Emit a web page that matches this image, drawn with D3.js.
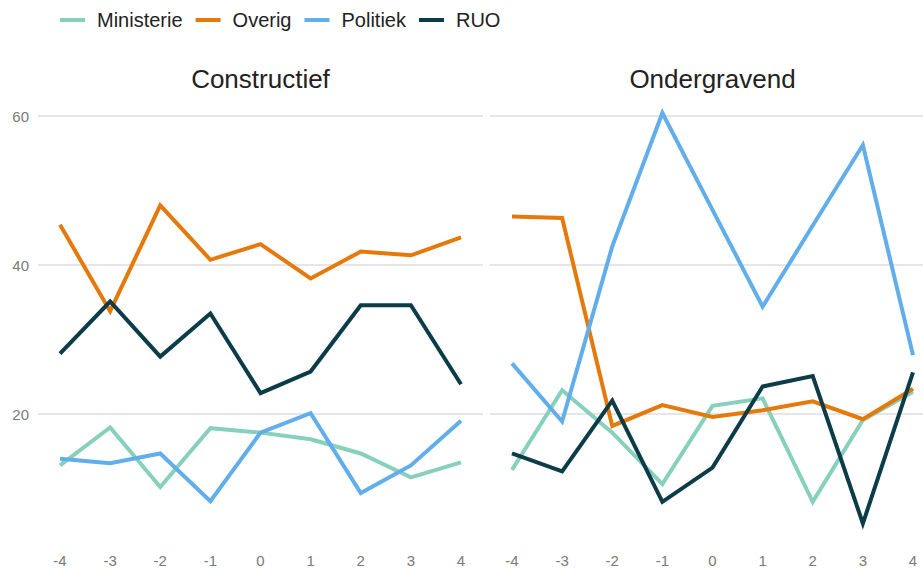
<!DOCTYPE html>
<meta charset="utf-8">
<title>Constructief / Ondergravend</title>
<style>
  body { margin: 0; background: #fff; }
  text { font-family: "Liberation Sans", Arial, sans-serif; }
</style>
<svg width="923" height="571"></svg>
<script src="https://d3js.org/d3.v7.min.js"></script>
<script>

  var periods = [-4, -3, -2, -1, 0, 1, 2, 3, 4];
  var yTicks = [20, 40, 60];
  var seriesNames = ["Ministerie", "Overig", "Politiek", "RUO"];
  var panelTitles = ["Constructief", "Ondergravend"];

  // Constructief
  var conMinisterie = [13.1, 18.2, 10.2, 18.1, 17.5, 16.6, 14.7, 11.5, 13.5];
  var conOverig     = [45.4, 33.8, 48.0, 40.7, 42.8, 38.2, 41.8, 41.3, 43.7];
  var conPolitiek   = [14.0, 13.4, 14.7, 8.3, 17.5, 20.1, 9.4, 13.1, 19.1];
  var conRUO        = [28.1, 35.1, 27.7, 33.5, 22.8, 25.7, 34.6, 34.6, 24.0];

  // Ondergravend
  var ondMinisterie = [12.5, 23.2, 17.5, 10.6, 21.1, 22.1, 8.2, 19.2, 23.0];
  var ondOverig     = [46.5, 46.3, 18.4, 21.2, 19.6, 20.5, 21.7, 19.3, 23.4];
  var ondPolitiek   = [26.8, 19.0, 42.5, 60.4, 47.4, 34.4, 45.3, 56.1, 27.9];
  var ondRUO        = [14.7, 12.3, 21.8, 8.2, 12.8, 23.7, 25.1, 5.3, 25.6];

  var colors = ["#86d0bc", "#e47a0c", "#62aeea", "#0b3c48"];

  var panels = [
    { title: panelTitles[0], left: 38, right: 483, series: [conMinisterie, conOverig, conPolitiek, conRUO] },
    { title: panelTitles[1], left: 490, right: 935, series: [ondMinisterie, ondOverig, ondPolitiek, ondRUO] }
  ];

  var svg = d3.select("svg");

  var y = d3.scaleLinear().domain([0, 60]).range([563, 116]);

  // legend
  var legend = svg.append("g").attr("transform", "translate(60,20)");
  var lx = 0;
  seriesNames.forEach(function(name, i) {
    var g = legend.append("g").attr("transform", "translate(" + lx + ",0)");
    g.append("line").attr("x1", 0).attr("x2", 25).attr("y1", 0).attr("y2", 0)
      .attr("stroke", colors[i]).attr("stroke-width", 4);
    var t = g.append("text").attr("x", 37).attr("y", 7)
      .attr("font-size", 20).attr("fill", "#222").text(name);
    lx += 37 + t.node().getComputedTextLength() + 13;
  });

  panels.forEach(function(p, pi) {
    var pad = 22;
    var x = d3.scaleLinear().domain([-4, 4]).range([p.left + pad, p.right - pad]);
    var g = svg.append("g");

    g.selectAll(".grid").data(yTicks).enter().append("line")
      .attr("x1", p.left).attr("x2", p.right)
      .attr("y1", function(d) { return y(d); }).attr("y2", function(d) { return y(d); })
      .attr("stroke", "#dedede").attr("stroke-width", 1.5);

    if (pi === 0) {
      g.selectAll(".ylab").data(yTicks).enter().append("text")
        .attr("x", 29).attr("y", function(d) { return y(d) + 5.5; })
        .attr("text-anchor", "end").attr("font-size", 15).attr("fill", "#7a7a7a")
        .text(function(d) { return d; });
    }

    g.selectAll(".xlab").data(periods).enter().append("text")
      .attr("x", function(d) { return x(d); }).attr("y", 566)
      .attr("text-anchor", "middle").attr("font-size", 15).attr("fill", "#7a7a7a")
      .text(function(d) { return d; });

    g.append("text")
      .attr("x", (x(-4) + x(4)) / 2).attr("y", 88)
      .attr("text-anchor", "middle").attr("font-size", 26).attr("fill", "#222")
      .text(p.title);

    var line = d3.line()
      .x(function(d, i) { return x(periods[i]); })
      .y(function(d) { return y(d); });

    p.series.forEach(function(vals, si) {
      g.append("path")
        .attr("d", line(vals))
        .attr("fill", "none")
        .attr("stroke", colors[si])
        .attr("stroke-width", 4)
        .attr("stroke-linejoin", "miter");
    });
  });

</script>
